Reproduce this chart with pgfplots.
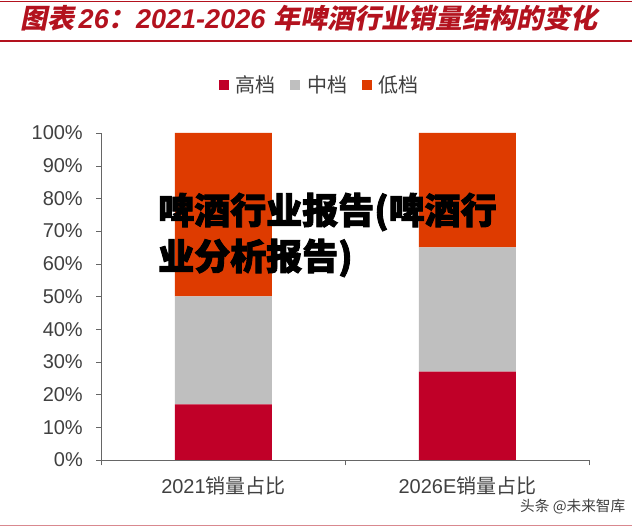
\documentclass[border=0pt]{standalone}
\usepackage{fontspec}
\setmainfont{Liberation Sans}
\newfontfamily\cjk{Noto Sans CJK SC}
\newfontfamily\cjkt[FakeSlant=0.2]{Noto Sans CJK SC}
\newfontfamily\cjkb[FakeBold=2.5]{Noto Sans CJK SC}
\usepackage{pgfplots}
\pgfplotsset{compat=1.18}
\definecolor{hi}{HTML}{C00028}
\definecolor{mid}{HTML}{BFBFBF}
\definecolor{lo}{HTML}{DE3B00}
\definecolor{titlered}{HTML}{B3121E}
\definecolor{txt}{HTML}{404040}
\begin{document}
\begin{tikzpicture}
\path[use as bounding box] (0,0) rectangle (480pt,396.75pt);
\draw[titlered, line width=0.75pt] (0,395.25pt) -- (474pt,395.25pt);
\draw[titlered, line width=1pt] (0,366pt) -- (474pt,366pt);
\draw[titlered!50, line width=0.75pt] (0,2.25pt) -- (474pt,2.25pt);
\node[text=titlered, font=\fontsize{20.3}{24}\selectfont\bfseries] at (231.75pt,383.25pt) {{\cjkt 图表}\,\textit{26}{\cjkt ：}\textit{2021-2026} {\cjkt 年啤酒行业销量结构的变化}};
\begin{axis}[
  at={(76.125pt,51.75pt)}, anchor=south west,
  scale only axis, width=366pt, height=245.25pt,
  ybar stacked, bar width=72.75pt,
  xmin=-0.5, xmax=1.5, ymin=0, ymax=100,
  axis lines=left, axis line style={draw=txt!80, -},
  tick align=outside, major tick length=4pt, tick style={draw=txt!80},
  xtick={-0.5,0.5,1.5}, xticklabels={},
  extra x ticks={0,1},
  extra x tick labels={2021{\cjk 销量占比}, 2026E{\cjk 销量占比}},
  extra x tick style={major tick length=0pt, tick label style={font=\fontsize{15}{18}\selectfont, text=txt, yshift=-9pt}},
  ytick={0,10,...,100},
  yticklabels={0\%,10\%,20\%,30\%,40\%,50\%,60\%,70\%,80\%,90\%,100\%},
  yticklabel style={font=\fontsize{15}{18}\selectfont, text=txt, xshift=-6.5pt},
  legend style={at={(0.448,1.147)}, anchor=center, draw=none, legend columns=3,
    font=\fontsize{15}{18}\selectfont, text=txt,
    /tikz/every odd column/.append style={column sep=3pt},
    /tikz/every even column/.append style={column sep=9pt}},
  legend image code/.code={\fill[#1] (0pt,-3.75pt) rectangle (7.5pt,3.75pt);},
]
\addplot[fill=hi, draw=none] coordinates {(0,17) (1,27)};
\addplot[fill=mid, draw=none] coordinates {(0,33) (1,38)};
\addplot[fill=lo, draw=none] coordinates {(0,50) (1,35)};
\legend{{\cjk 高档},{\cjk 中档},{\cjk 低档}}
\end{axis}
\node[anchor=west, inner sep=0pt, font=\fontsize{27}{30}\selectfont\cjkb\bfseries] at (118.5pt,237.75pt) {啤酒行业报告(啤酒行};
\node[anchor=west, inner sep=0pt, font=\fontsize{27}{30}\selectfont\cjkb\bfseries] at (118.5pt,203.25pt) {业分析报告)};
\node[anchor=east, text=txt, font=\fontsize{11}{13}\selectfont\cjk] at (472.5pt,16.5pt) {头条 @未来智库};
\end{tikzpicture}
\end{document}
